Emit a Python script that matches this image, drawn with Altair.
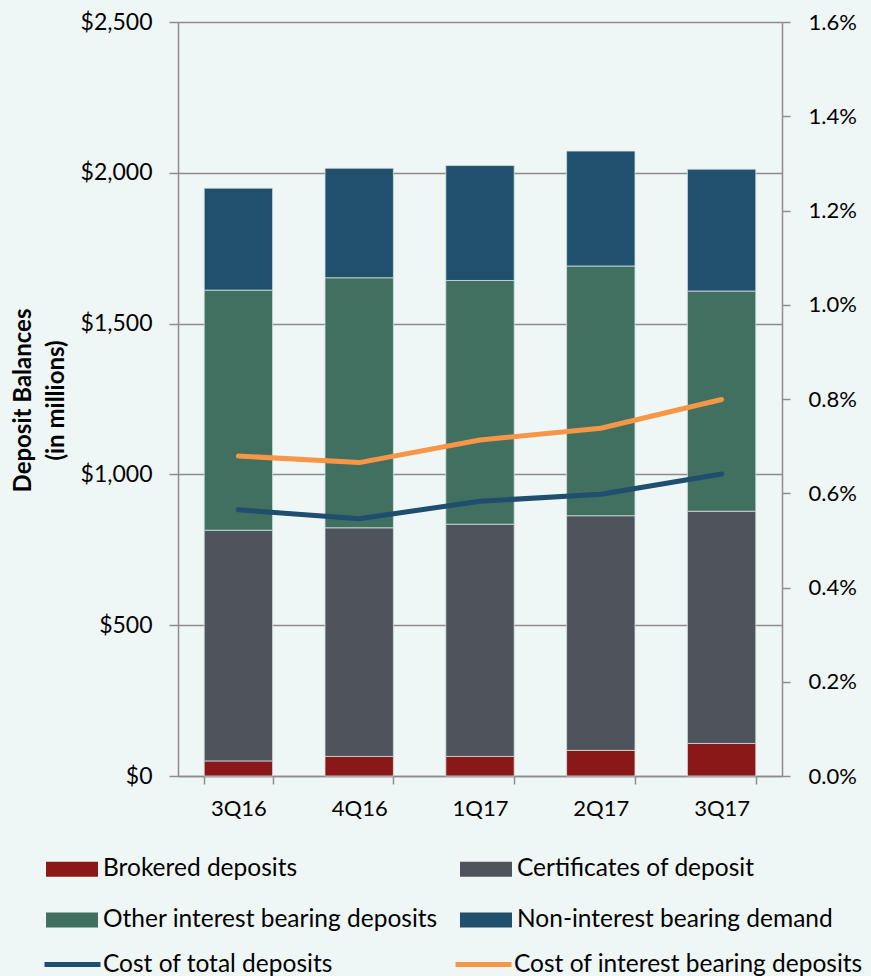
import altair as alt
import pandas as pd

quarters = ["3Q16", "4Q16", "1Q17", "2Q17", "3Q17"]

bar_series = [
    "Brokered deposits",
    "Certificates of deposit",
    "Other interest bearing deposits",
    "Non-interest bearing demand",
]
bar_colors = ["#8B1818", "#4F535C", "#416F60", "#21506D"]
brokered = [50, 65, 65, 85, 108]
certificates = [765, 758, 770, 778, 770]
other_ib = [796, 829, 808, 828, 730]
non_ib = [338, 363, 381, 381, 404]

line_series = ["Cost of total deposits", "Cost of interest bearing deposits"]
line_colors = ["#1F4E6E", "#F79646"]
cost_total = [0.565, 0.546, 0.583, 0.598, 0.641]
cost_ib = [0.679, 0.665, 0.713, 0.738, 0.799]

left_ticks = [0, 500, 1000, 1500, 2000, 2500]
right_ticks = [0.0, 0.2, 0.4, 0.6, 0.8, 1.0, 1.2, 1.4, 1.6]

rows = []
for i, (name, vals) in enumerate(zip(bar_series, [brokered, certificates, other_ib, non_ib])):
    for q, v in zip(quarters, vals):
        rows.append({"quarter": q, "series": name, "value": v, "idx": i})
bar_df = pd.DataFrame(rows)

lrows = []
for name, vals in zip(line_series, [cost_total, cost_ib]):
    for q, v in zip(quarters, vals):
        lrows.append({"quarter": q, "series": name, "pct": v})
line_df = pd.DataFrame(lrows)

FONT = "Lato"
AX = "#8C8C8C"

xenc = alt.X(
    "quarter:N",
    sort=quarters,
    scale=alt.Scale(paddingInner=0.434, paddingOuter=0.217),
    axis=alt.Axis(
        title=None, labelAngle=0, tickBand="extent", labelFontSize=22, labelFont=FONT,
        labelColor="#000000", domainColor=AX, domainWidth=1.5, tickColor=AX, tickWidth=1.5,
        tickSize=8, labelPadding=14,
    ),
)

bars = alt.Chart(bar_df).mark_bar(stroke="#CFDEDE", strokeWidth=0.8).encode(
    x=xenc,
    y=alt.Y(
        "value:Q",
        stack="zero",
        scale=alt.Scale(domain=[0, 2500], nice=False),
        axis=alt.Axis(
            values=left_ticks, format="$,.0f", labelFontSize=23, labelFont=FONT, labelColor="#000000",
            domainColor=AX, domainWidth=1.5, tickColor=AX, tickWidth=1.5, tickSize=9, labelPadding=17,
            grid=True, gridColor=AX, gridWidth=1.5,
            title=["Deposit Balances", "(in millions)"], titleFont=FONT, titleFontSize=24,
            titleFontWeight="bold", titleColor="#000000", titleLineHeight=33,
            titleAngle=-90, titleAlign="center", titleBaseline="top", titleX=-167, titleY=378,
        ),
    ),
    fill=alt.Fill(
        "series:N",
        scale=alt.Scale(domain=bar_series, range=bar_colors),
        legend=alt.Legend(
            orient="none", legendX=-132, legendY=821, columns=2, direction="horizontal", title=None,
            symbolType="M-1,-0.29H1V0.29H-1Z", symbolSize=2704, symbolStrokeWidth=0,
            symbolOpacity=1, labelFont=FONT, labelFontSize=24.5, labelColor="#000000",
            labelOffset=5, columnPadding=22, rowPadding=13, labelLimit=500,
        ),
    ),
    order=alt.Order("idx:Q"),
)

lines = alt.Chart(line_df).mark_line(strokeWidth=5, strokeCap="round", strokeJoin="round").encode(
    x=alt.X("quarter:N", sort=quarters),
    y=alt.Y(
        "pct:Q",
        scale=alt.Scale(domain=[0, 1.6], nice=False),
        axis=alt.Axis(
            orient="right", values=right_ticks, labelExpr="format(datum.value, '.1f') + '%'",
            labelFontSize=22, labelFont=FONT, labelColor="#000000", domainColor=AX, domainWidth=1.5,
            tickColor=AX, tickWidth=1.5, tickSize=8, labelPadding=18, grid=False, title=None,
        ),
    ),
    stroke=alt.Stroke(
        "series:N",
        scale=alt.Scale(domain=line_series, range=line_colors),
        legend=alt.Legend(
            orient="none", legendX=-136, legendY=912, columns=2, direction="horizontal", title=None,
            symbolType="stroke", symbolSize=3136, symbolStrokeWidth=5,
            labelFont=FONT, labelFontSize=24.5, labelColor="#000000",
            labelOffset=0, columnPadding=112, labelLimit=500,
        ),
    ),
    detail="series:N",
)

chart = (
    alt.layer(bars, lines)
    .resolve_scale(y="independent")
    .properties(
        width=604, height=754,
        padding={"left": 178, "top": 22, "right": 89, "bottom": 200},
        autosize=alt.AutoSizeParams(type="none"),
        background="#EFF7F6",
    )
    .configure_view(stroke=None)
)

chart.save("out.html", embed_options={"renderer": "svg", "actions": False})
